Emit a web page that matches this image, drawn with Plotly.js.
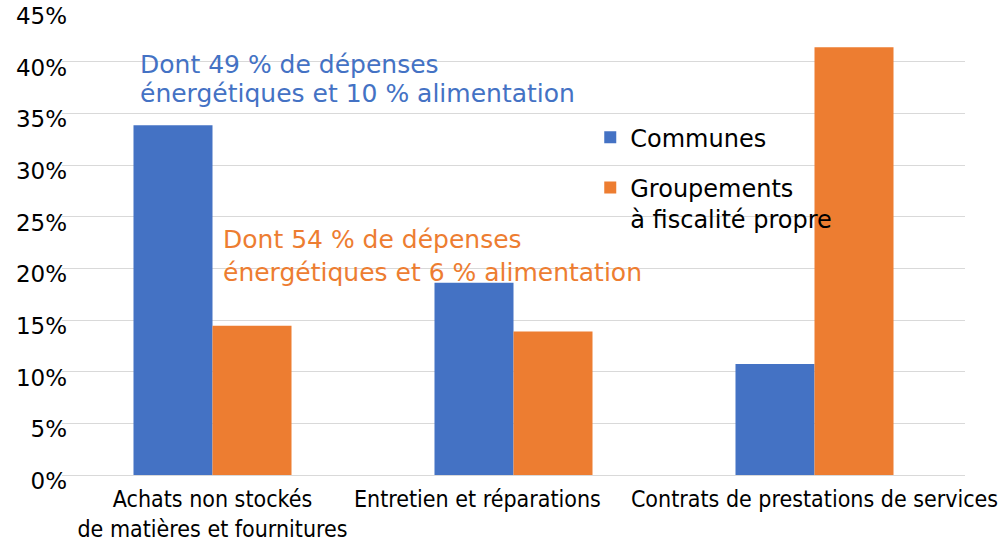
<!DOCTYPE html>
<html>
<head>
<meta charset="utf-8">
<script src="https://cdn.plot.ly/plotly-3.0.1.min.js"></script>
<style>html,body{margin:0;padding:0;background:#fff;}#chart{width:1007px;height:548px;}</style>
</head>
<body>
<div id="chart"></div>
<script>
const categories = ["Achats non stockés<br>de matières et fournitures", "Entretien et réparations", "Contrats de prestations de services"];
const communes = [0.3385, 0.186, 0.1075];
const groupements = [0.1445, 0.139, 0.414];
const seriesNames = ["Communes", "Groupements<br>à fiscalité propre"];
const noteCommunesLines = ["Dont 49 % de dépenses", "énergétiques et 10 % alimentation"];
const noteGroupementsLines = ["Dont 54 % de dépenses", "énergétiques et 6 % alimentation"];

const font = "'DejaVu Sans', 'Noto Sans', sans-serif";
const narrow = "'Liberation Sans Narrow', 'DejaVu Sans Condensed', 'Liberation Sans', sans-serif";

// The middle label is nudged left (as in the reference) by trailing non-breaking spaces
const padRight = ["", "\u00a0".repeat(11), ""];
const tickText = categories.map((c, i) => c + padRight[i]);

const data = [
  {type: "bar", x: categories, y: communes, name: seriesNames[0], legendgroup: "a", marker: {color: "#4472C4"}, hoverinfo: "none"},
  {type: "bar", x: categories, y: groupements, name: seriesNames[1], legendgroup: "b", marker: {color: "#ED7D31"}, hoverinfo: "none"}
];

function noteLine(text, catIndex, shift, yv, color) {
  return {text: text, x: catIndex, xref: "x", xshift: shift, y: yv, yref: "y", xanchor: "left", yanchor: "middle", align: "left", showarrow: false, font: {family: font, size: 25, color: color}};
}

const layout = {
  width: 1007, height: 548,
  margin: {l: 62, r: 42, t: 10, b: 73},
  paper_bgcolor: "#fff", plot_bgcolor: "#fff",
  barmode: "group", bargap: 0.475, bargroupgap: 0,
  showlegend: true,
  legend: {x: 0.585, y: 0.774, xanchor: "left", yanchor: "top", valign: "top", font: {family: font, size: 24, color: "#000"}, tracegroupgap: 16, itemwidth: 30, bgcolor: "rgba(0,0,0,0)"},
  xaxis: {tickangle: 0, tickmode: "array", tickvals: categories, ticktext: tickText, ticklabelstandoff: 3, tickfont: {family: narrow, size: 23, color: "#000"}, showline: true, linecolor: "#d9d9d9", linewidth: 1, ticks: "", fixedrange: true},
  yaxis: {range: [0, 0.4501], dtick: 0.05, tickformat: ".0%", ticklabeloverflow: "allow", ticklabelshift: 6, ticklabelstandoff: -6, tickfont: {family: font, size: 23, color: "#000"}, showgrid: true, gridcolor: "#d9d9d9", gridwidth: 1, zeroline: false, showline: false, ticks: "", fixedrange: true},
  annotations: [
    noteLine(noteCommunesLines[0], 0, -75, 0.3970, "#4472C4"),
    noteLine(noteCommunesLines[1], 0, -75, 0.3690, "#4472C4"),
    noteLine(noteGroupementsLines[0], 1, -293, 0.2280, "#ED7D31"),
    noteLine(noteGroupementsLines[1], 1, -293, 0.1960, "#ED7D31")
  ]
};

Plotly.newPlot("chart", data, layout, {displayModeBar: false, staticPlot: true});
</script>
</body>
</html>
